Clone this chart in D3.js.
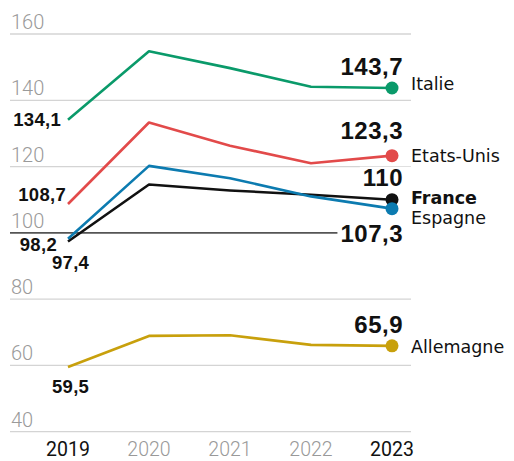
<!DOCTYPE html>
<html>
<head>
<meta charset="utf-8">
<script src="https://cdn.jsdelivr.net/npm/d3@7"></script>
<style>
  body { margin: 0; background: #fff; }
  svg { display: block; }
</style>
</head>
<body>
<div id="chart"></div>
<script>
// years and the values of each country
var years = [2019, 2020, 2021, 2022, 2023];
var yTicks = [40, 60, 80, 100, 120, 140, 160];

var italie    = [134.1, 154.8, 149.7, 144.1, 143.7];
var etatsUnis = [108.7, 133.3, 126.3, 121.0, 123.3];
var espagne   = [98.2, 120.2, 116.5, 111.0, 107.3];
var france    = [97.4, 114.6, 112.8, 111.5, 110];
var allemagne = [59.5, 68.9, 69.1, 66.2, 65.9];

var countries = ["Italie", "Etats-Unis", "France", "Espagne", "Allemagne"];
var colors = ["#0a9a6a", "#e24a4a", "#111111", "#0c7bb0", "#c8a00c"];
var values = [italie, etatsUnis, france, espagne, allemagne];

// label placement (offsets from the first / last point)
var startLabel = [
  {anchor: "end", dx: -7, dy: 6},
  {anchor: "end", dx: -2, dy: -3},
  {anchor: "start", dx: -16, dy: 28},
  {anchor: "end", dx: -11, dy: 12},
  {anchor: "start", dx: -16, dy: 26}
];
var endLabel = [
  {dy: -13, nameDy: 2},
  {dy: -17, nameDy: 6},
  {dy: -14, nameDy: 4},
  {dy: 33, nameDy: 15},
  {dy: -13, nameDy: 7}
];

var width = 514, height = 461;
var svg = d3.select("#chart").append("svg")
  .attr("width", width).attr("height", height);

var x = d3.scaleLinear().domain([2019, 2023]).range([68, 392]);
var y = d3.scaleLinear().domain([40, 160]).range([431.7, 34]);

function fmt(v) { return String(v).replace(".", ","); }

// gridlines + tick labels
var grid = svg.append("g");
grid.selectAll("line").data(yTicks).enter().append("line")
  .attr("x1", 10).attr("x2", 411)
  .attr("y1", d => y(d)).attr("y2", d => y(d))
  .attr("stroke", d => d == 100 ? "#555" : "#d4d4d4")
  .attr("stroke-width", d => d == 100 ? 1.6 : 1.3);
grid.selectAll("text").data(yTicks).enter().append("text")
  .attr("x", 11).attr("y", d => y(d) - 5)
  .attr("font-family", "Roboto").attr("font-weight", 300)
  .attr("font-size", 20).attr("fill", "#9a9a9a")
  .text(d => d);

// white boxes behind the end values, they cut the gridlines
var bgLayer = svg.append("g");

// years along the bottom
svg.append("g").selectAll("text").data(years).enter().append("text")
  .attr("x", d => x(d)).attr("y", 456)
  .attr("text-anchor", "middle")
  .attr("font-family", "Roboto").attr("font-weight", d => (d == 2019 || d == 2023) ? 400 : 300)
  .attr("font-size", 19.5)
  .attr("fill", d => (d == 2019 || d == 2023) ? "#111" : "#999")
  .text(d => d);

var line = d3.line().x((d, i) => x(years[i])).y(d => y(d));

for (let i = 0; i < countries.length; i++) {
  let vals = values[i];
  let last = vals.length - 1;
  let g = svg.append("g");

  g.append("path").datum(vals)
    .attr("d", line)
    .attr("fill", "none")
    .attr("stroke", colors[i])
    .attr("stroke-width", 2.6)
    .attr("stroke-linejoin", "round");

  g.append("circle")
    .attr("cx", x(years[last])).attr("cy", y(vals[last]))
    .attr("r", 6.5).attr("fill", colors[i]);

  // first value
  g.append("text")
    .attr("x", x(years[0]) + startLabel[i].dx)
    .attr("y", y(vals[0]) + startLabel[i].dy)
    .attr("text-anchor", startLabel[i].anchor)
    .attr("font-family", "Liberation Sans").attr("font-weight", "bold")
    .attr("font-size", 18.5).attr("letter-spacing", 0.3)
    .attr("fill", "#111")
    .text(fmt(vals[0]));

  // last value
  let lastText = g.append("text")
    .attr("x", x(years[last]) + 11)
    .attr("y", y(vals[last]) + endLabel[i].dy)
    .attr("text-anchor", "end")
    .attr("font-family", "Liberation Sans").attr("font-weight", "bold")
    .attr("font-size", 24).attr("letter-spacing", 0.5)
    .attr("fill", "#111")
    .text(fmt(vals[last]));
  let bb = lastText.node().getBBox();
  bgLayer.append("rect")
    .attr("x", bb.x - 3).attr("y", bb.y + 3)
    .attr("width", bb.width + 30).attr("height", bb.height - 4)
    .attr("fill", "#fff");

  // country name
  g.append("text")
    .attr("x", x(years[last]) + 19)
    .attr("y", y(vals[last]) + endLabel[i].nameDy)
    .attr("font-family", "DejaVu Sans")
    .attr("font-weight", countries[i] == "France" ? "bold" : "normal")
    .attr("font-size", 17.5)
    .attr("fill", "#111")
    .attr("stroke", "#fff").attr("stroke-width", 6).attr("paint-order", "stroke")
    .text(countries[i]);
}
</script>
</body>
</html>
